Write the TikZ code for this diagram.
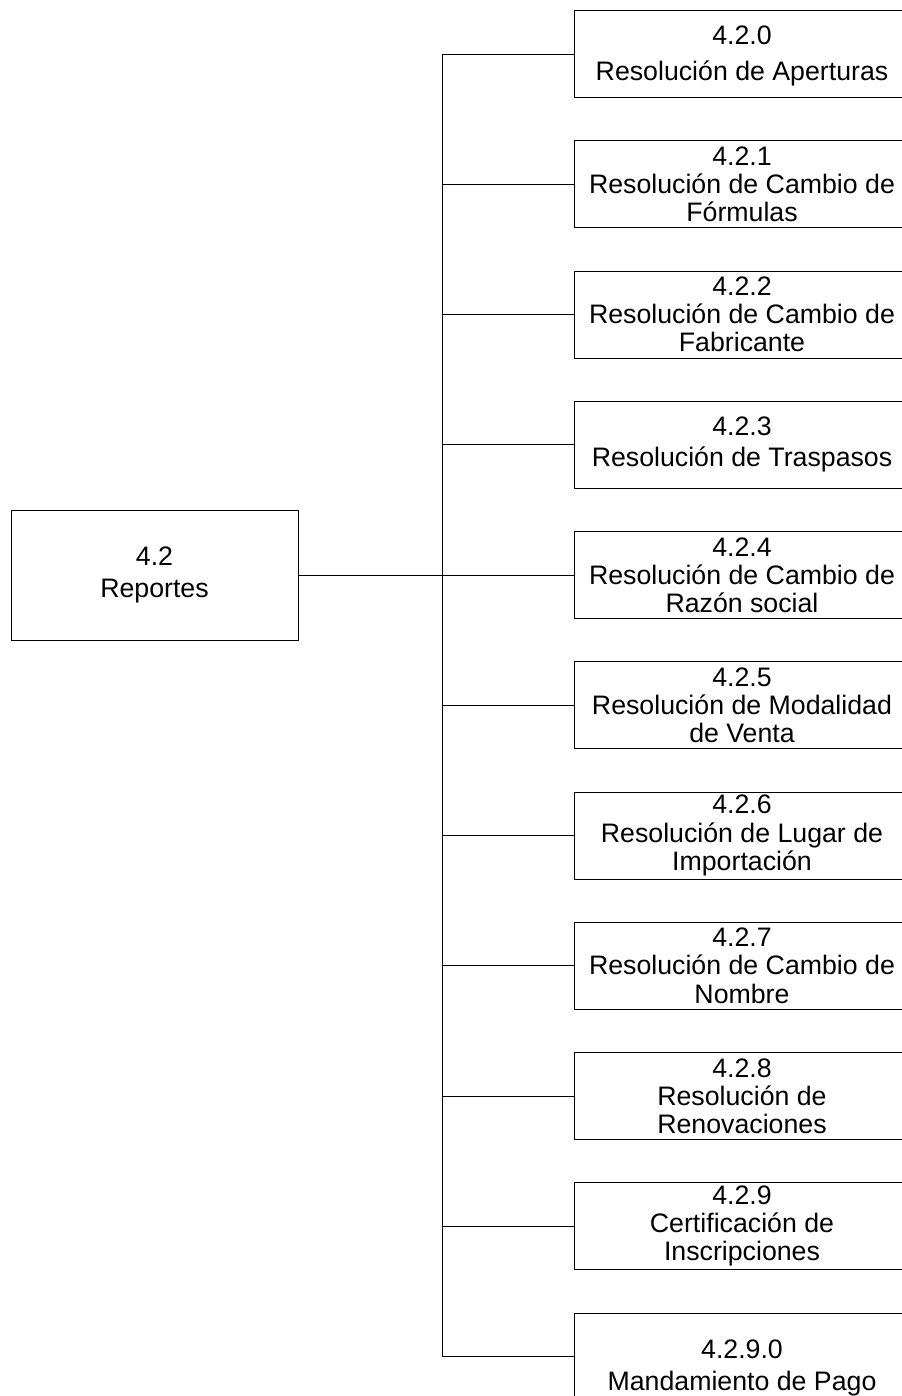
\documentclass[tikz,border=0pt]{standalone}
\usepackage{fontspec}
\setmainfont{Liberation Sans}
\begin{document}
\begin{tikzpicture}[x=0.025cm,y=-0.025cm,
  caja/.style={draw,line width=0.6pt,minimum width=8.4cm,minimum height=2.175cm,inner sep=0pt},
  padre/.style={draw,line width=0.6pt,minimum width=7.175cm,minimum height=3.25cm,inner sep=0pt},
  texto/.style={align=center,inner sep=0pt,font=\fontsize{19}{20}\selectfont},
  linea/.style={line width=0.6pt}]
\useasboundingbox (0,0) rectangle (902,1396);
\clip (0,0) rectangle (902,1396);

\node[padre] (reportes) at (154.5,575) {};
\node[texto] (treportes) at (reportes) {4.2\\[3pt]Reportes};

\node[caja] (r0) at (742,54) {};
\node[caja] (r1) at (742,184.25) {};
\node[caja] (r2) at (742,314.5) {};
\node[caja] (r3) at (742,444.75) {};
\node[caja] (r4) at (742,575) {};
\node[caja] (r5) at (742,705.25) {};
\node[caja] (r6) at (742,835.5) {};
\node[caja] (r7) at (742,965.75) {};
\node[caja] (r8) at (742,1096) {};
\node[caja] (r9) at (742,1226.25) {};
\node[caja] (r10) at (742,1356.5) {};

\node[texto] (t0) at ([yshift=-0.05cm]r0) {4.2.0\\[5pt]Resolución de Aperturas};
\node[texto] (t1) at (r1) {4.2.1\\Resolución de Cambio de\\Fórmulas};
\node[texto] (t2) at (r2) {4.2.2\\Resolución de Cambio de\\Fabricante};
\node[texto] (t3) at (r3) {4.2.3\\[2pt]Resolución de Traspasos};
\node[texto] (t4) at (r4) {4.2.4\\Resolución de Cambio de\\Razón social};
\node[texto] (t5) at (r5) {4.2.5\\Resolución de Modalidad\\de Venta};
\node[texto] (t6) at (r6) {4.2.6\\Resolución de Lugar de\\Importación};
\node[texto] (t7) at (r7) {4.2.7\\Resolución de Cambio de\\Nombre};
\node[texto] (t8) at (r8) {4.2.8\\Resolución de\\Renovaciones};
\node[texto] (t9) at (r9) {4.2.9\\Certificación de\\Inscripciones};
\node[texto] (t10) at ([yshift=-0.28cm]r10) {4.2.9.0\\[3pt]Mandamiento de Pago};

% tronco del arbol
\coordinate (tronco) at (442,575);
\draw[linea] (reportes) -- (r4);
\draw[linea] (r0.west) -| (tronco);
\draw[linea] (r1.west) -| (tronco);
\draw[linea] (r2.west) -| (tronco);
\draw[linea] (r3.west) -| (tronco);
\draw[linea] (r5.west) -| (tronco);
\draw[linea] (r6.west) -| (tronco);
\draw[linea] (r7.west) -| (tronco);
\draw[linea] (r8.west) -| (tronco);
\draw[linea] (r9.west) -| (tronco);
\draw[linea] (r10.west) -| (tronco);
\end{tikzpicture}
\end{document}
